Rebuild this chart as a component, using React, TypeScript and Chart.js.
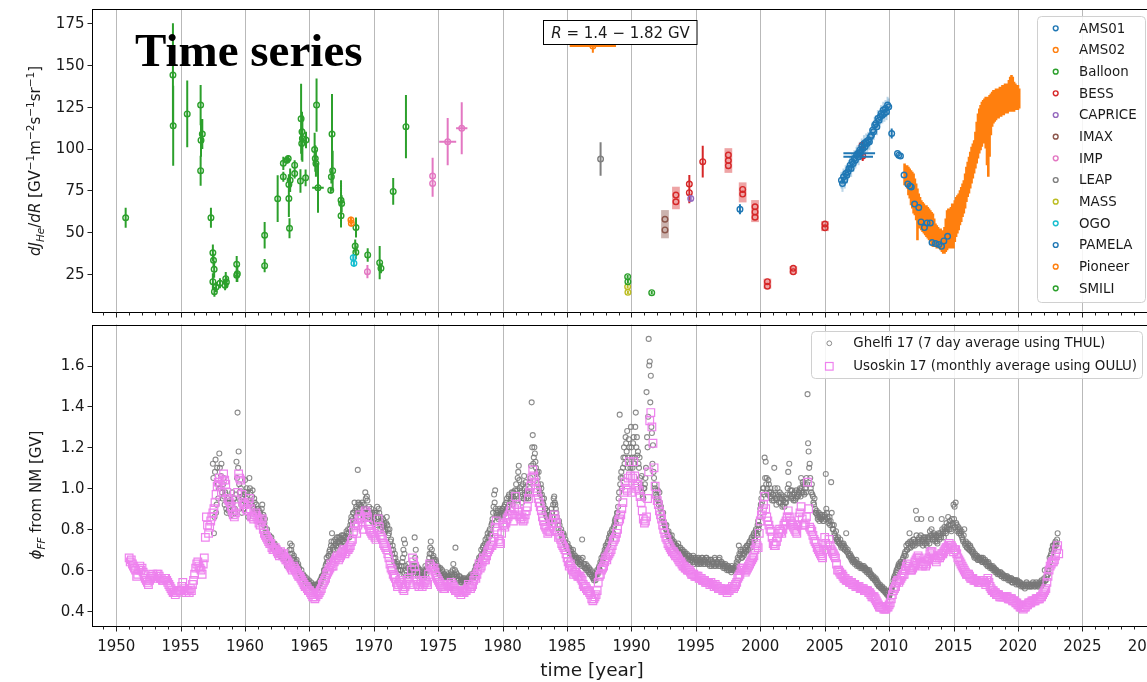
import { useEffect, useRef } from 'react';
import { Chart, registerables } from 'chart.js';

Chart.register(...registerables);

// ---------------------------------------------------------------- axes ----
const YEAR_MIN = 1948.14;
const YEAR_MAX = 2032.0;
const YEAR_TICK_FIRST = 1949;
const YEAR_TICK_LAST = 2032;
const YEAR_LABEL_STEP = 5;

const FLUX_MIN = 2.2;
const FLUX_MAX = 183.6;
const FLUX_TICKS = [25, 50, 75, 100, 125, 150, 175];

const PHI_MIN = 0.327;
const PHI_MAX = 1.8;
const PHI_TICKS = [0.4, 0.6, 0.8, 1.0, 1.2, 1.4, 1.6];

// ------------------------------------------- helium flux measurements ----
// rows: [year, flux, fluxErr, yearErr]
const BALLOON = [
  [1950.73, 58.5, 6], [1954.40, 144, 31], [1954.42, 113.6, 24], [1955.51, 120.7, 20],
  [1956.55, 126, 12], [1956.68, 108.7, 9], [1956.58, 105, 10], [1956.55, 86.7, 9],
  [1957.35, 58.5, 6], [1957.50, 37.5, 5], [1957.55, 33, 4], [1957.60, 27.6, 5],
  [1957.50, 20.2, 5], [1957.62, 14.2, 3], [1957.75, 17, 3], [1958.05, 19.2, 3],
  [1958.50, 22, 4], [1958.55, 20, 3], [1958.45, 18, 3], [1959.35, 30.6, 5],
  [1959.40, 25, 5], [1959.35, 24, 4], [1961.52, 48, 8], [1961.52, 29.8, 4],
  [1962.53, 69.9, 14], [1962.97, 91.1, 4], [1962.97, 83.1, 3], [1963.25, 93, 2],
  [1963.35, 94, 2], [1963.40, 78.5, 6], [1963.40, 70, 11], [1963.45, 52.2, 6],
  [1963.50, 81, 7], [1963.85, 90, 3], [1963.85, 85, 3], [1964.35, 117.8, 21],
  [1964.42, 110, 12], [1964.45, 106, 14], [1964.40, 103, 10], [1964.30, 80.5, 7],
  [1964.73, 105.1, 5], [1964.70, 82.4, 5], [1965.40, 99.4, 10], [1965.45, 94, 8],
  [1965.55, 126, 16], [1965.50, 91, 8], [1965.66, 76.5, 15, 0.45], [1966.75, 108.7, 24],
  [1966.80, 86.7, 12], [1966.70, 83, 4], [1966.65, 75, 2], [1967.45, 69, 12],
  [1967.50, 67, 5], [1967.45, 59.7, 7], [1968.61, 52.6, 6], [1968.55, 41.5, 4],
  [1968.60, 37.8, 4], [1969.52, 36.2, 4], [1970.45, 31.6, 10], [1970.55, 28.2, 3],
  [1971.50, 74.3, 8], [1972.49, 113.1, 19],
];
const IMP = [
  [1969.50, 26.2, 4], [1974.56, 83.5, 11], [1974.56, 79.1, 8],
  [1975.73, 104.1, 14.2, 0.66], [1976.82, 112.1, 15.6, 0.44],
];
const OGO = [[1968.40, 34.6, 2, 0.08], [1968.45, 31.2, 2, 0.08]];
const PIONEER = [[1968.22, 57.1, 2, 0.1], [1968.25, 55.2, 2, 0.1], [1987.0, 161.4, 4, 1.8]];
const LEAP = [[1987.6, 93.7, 10]];
const MASS = [[1989.70, 17.2, 1], [1989.72, 13.8, 1]];
const SMILI = [[1989.70, 23.2, 1], [1989.72, 20.2, 1], [1991.57, 13.6, 1]];
const CAPRICE = [[1994.60, 70.1, 1.5]];
const AMS01 = [[1998.42, 63.6, 3]];
const IMAX = [[1992.60, 57.6], [1992.60, 51.2]];
const IMAX_RANGE = [[1992.60, 46.2, 63.1]]; // [year, low, high]
const BESS = [
  [1993.45, 72.1], [1993.45, 68.1], [1994.49, 78.7, 5.4], [1994.49, 73.5, 6.3],
  [1995.53, 92.1, 9.5], [1997.52, 96.1], [1997.52, 89.7], [1997.52, 92.8],
  [1998.63, 75.5], [1998.63, 72.7], [1999.59, 65.1], [1999.59, 58.8], [1999.59, 62.0],
  [2000.55, 20.2], [2000.55, 17.5], [2002.56, 28.2], [2002.56, 26.2],
  [2005.02, 54.7], [2005.02, 52.5], [2007.90, 102, 2], [2007.95, 95.5, 3],
];
const BESS_RANGE = [
  [1993.45, 63.6, 77.1], [1997.52, 85.4, 100.2], [1998.63, 67.7, 79.7],
  [1999.59, 55.9, 69.1], [2000.55, 16, 22], [2002.56, 25, 29.5], [2005.02, 50.5, 56.5],
];
// PAMELA monthly fluxes and their uncertainty
const PAMELA_MONTHLY = [
  [2006.30, 81], [2006.38, 79], [2006.46, 83], [2006.55, 81], [2006.63, 85], [2006.72, 84],
  [2006.80, 86], [2006.88, 88], [2006.97, 90], [2007.05, 88], [2007.13, 92], [2007.22, 91],
  [2007.30, 94], [2007.38, 93], [2007.47, 96], [2007.55, 97], [2007.63, 95], [2007.72, 99],
  [2007.80, 98], [2007.88, 101], [2007.97, 100], [2008.05, 103], [2008.13, 101], [2008.22, 104],
  [2008.30, 103], [2008.38, 105], [2008.47, 104], [2008.55, 107], [2008.63, 108], [2008.72, 111],
  [2008.80, 110], [2008.88, 114], [2008.97, 115], [2009.05, 113], [2009.13, 118], [2009.22, 117],
  [2009.30, 119], [2009.38, 121], [2009.47, 120], [2009.55, 123], [2009.63, 121], [2009.72, 124],
  [2009.80, 122], [2009.88, 126], [2009.97, 125],
];
const PAMELA_MONTHLY_ERR = 5;
const PAMELA_OTHER = [
  [2007.68, 97.1, 0, 1.23], [2007.60, 95.1, 0, 1.15],
  [2010.20, 109, 3], [2010.65, 97], [2010.75, 96], [2010.88, 95.5],
  [2011.16, 84.1], [2011.45, 78.7], [2011.62, 77.5], [2011.72, 77], [2011.98, 66.7],
  [2012.30, 64.6], [2012.48, 56], [2012.74, 52.6], [2012.95, 55.4], [2013.20, 55.4],
  [2013.33, 43.6], [2013.60, 43], [2013.86, 42.4], [2014.07, 41.4], [2014.25, 44.6],
  [2014.54, 47.4],
];
// AMS-02 daily flux envelope, sampled every 0.1 year from 2011.2
const AMS02_START = 2011.2;
const AMS02_STEP = 0.1;
const AMS02_HIGH = [
  91, 90, 90, 89, 88, 87, 86, 85, 82, 79,
  76, 73, 71, 69, 68, 67, 66, 66, 65, 64,
  63, 62, 61, 58, 55, 54, 53, 52, 52, 51,
  51, 53, 58, 63, 64, 62, 65, 67, 67, 69,
  71, 72, 73, 75, 77, 79, 81, 85, 89, 92,
  95, 98, 101, 103, 105, 110, 116, 121, 124, 126,
  128, 129, 130, 131, 131, 130, 132, 133, 134, 135,
  135, 136, 136, 136, 137, 137, 138, 138, 139, 139,
  139, 141, 143, 144, 143, 140, 139, 138, 138, 136,
];
const AMS02_LOW = [
  78, 78, 76, 72, 70, 66, 64, 61, 60, 57,
  45, 53, 52, 51, 50, 49, 48, 47, 46, 45,
  44, 42, 41, 41, 41, 40, 41, 40, 39, 38,
  37, 37, 38, 39, 40, 40, 41, 40, 40, 44,
  47, 49, 51, 54, 56, 59, 61, 64, 68, 71,
  73, 76, 79, 82, 85, 88, 91, 94, 97, 99,
  101, 103, 105, 100, 90, 83, 95, 108, 113, 115,
  116, 117, 118, 118, 119, 119, 120, 120, 121, 121,
  121, 122, 122, 122, 122, 122, 123, 123, 123, 124,
];

// ------------------------------------------- modulation potential -------
// Usoskin 17: monthly values from January 1951 (one row per year)
const USOSKIN_START = 1951.0;
const USOSKIN_PER_YEAR = 12;
const USOSKIN_PHI = [
  0.66, 0.64, 0.65, 0.63, 0.62, 0.61, 0.60, 0.57, 0.58, 0.60, 0.62, 0.60,
  0.61, 0.59, 0.58, 0.56, 0.55, 0.54, 0.53, 0.55, 0.56, 0.57, 0.58, 0.57,
  0.56, 0.57, 0.58, 0.58, 0.57, 0.56, 0.56, 0.55, 0.55, 0.56, 0.56, 0.55,
  0.54, 0.53, 0.52, 0.51, 0.50, 0.49, 0.49, 0.48, 0.49, 0.50, 0.50, 0.50,
  0.50, 0.52, 0.54, 0.51, 0.50, 0.49, 0.50, 0.50, 0.49, 0.51, 0.50, 0.53,
  0.55, 0.58, 0.61, 0.63, 0.64, 0.62, 0.61, 0.60, 0.58, 0.63, 0.66, 0.76,
  0.86, 0.82, 0.78, 0.81, 0.84, 0.86, 0.88, 0.90, 0.93, 0.97, 1.01, 1.03,
  1.05, 1.02, 0.98, 1.04, 1.07, 1.04, 1.02, 0.98, 0.95, 0.94, 0.93, 0.91,
  0.89, 0.87, 0.86, 0.88, 0.91, 0.98, 1.07, 1.05, 1.04, 0.97, 0.93, 0.92,
  0.92, 0.90, 0.89, 0.93, 0.95, 0.90, 0.86, 0.86, 0.85, 0.87, 0.88, 0.86,
  0.85, 0.83, 0.82, 0.84, 0.85, 0.80, 0.78, 0.77, 0.76, 0.75, 0.74, 0.73,
  0.73, 0.71, 0.70, 0.70, 0.71, 0.70, 0.69, 0.68, 0.67, 0.69, 0.68, 0.67,
  0.68, 0.66, 0.65, 0.65, 0.64, 0.63, 0.62, 0.61, 0.60, 0.62, 0.61, 0.60,
  0.59, 0.58, 0.57, 0.57, 0.56, 0.55, 0.54, 0.53, 0.52, 0.52, 0.51, 0.50,
  0.50, 0.49, 0.48, 0.47, 0.47, 0.46, 0.47, 0.48, 0.48, 0.49, 0.50, 0.51,
  0.53, 0.54, 0.55, 0.56, 0.58, 0.59, 0.60, 0.61, 0.63, 0.62, 0.62, 0.64,
  0.65, 0.66, 0.67, 0.65, 0.66, 0.67, 0.68, 0.69, 0.70, 0.68, 0.69, 0.70,
  0.70, 0.71, 0.72, 0.74, 0.75, 0.79, 0.83, 0.81, 0.78, 0.82, 0.85, 0.87,
  0.85, 0.83, 0.80, 0.86, 0.89, 0.88, 0.86, 0.82, 0.80, 0.79, 0.78, 0.77,
  0.78, 0.76, 0.75, 0.80, 0.85, 0.81, 0.77, 0.76, 0.75, 0.73, 0.72, 0.71,
  0.70, 0.68, 0.66, 0.63, 0.61, 0.60, 0.58, 0.57, 0.56, 0.54, 0.52, 0.53,
  0.55, 0.54, 0.53, 0.51, 0.50, 0.52, 0.53, 0.55, 0.56, 0.54, 0.53, 0.60,
  0.66, 0.64, 0.62, 0.58, 0.55, 0.53, 0.52, 0.53, 0.54, 0.52, 0.53, 0.54,
  0.55, 0.54, 0.53, 0.58, 0.63, 0.62, 0.60, 0.61, 0.61, 0.59, 0.57, 0.56,
  0.55, 0.54, 0.53, 0.52, 0.52, 0.51, 0.51, 0.52, 0.53, 0.52, 0.52, 0.53,
  0.54, 0.53, 0.52, 0.51, 0.50, 0.50, 0.50, 0.49, 0.49, 0.48, 0.49, 0.49,
  0.49, 0.50, 0.50, 0.51, 0.53, 0.52, 0.51, 0.52, 0.53, 0.55, 0.57, 0.56,
  0.58, 0.60, 0.63, 0.61, 0.62, 0.64, 0.66, 0.65, 0.65, 0.67, 0.69, 0.70,
  0.71, 0.72, 0.72, 0.74, 0.76, 0.81, 0.84, 0.79, 0.75, 0.74, 0.73, 0.78,
  0.83, 0.82, 0.81, 0.83, 0.85, 0.86, 0.87, 0.89, 0.91, 0.87, 0.84, 0.90,
  0.96, 0.92, 0.89, 0.87, 0.86, 0.85, 0.86, 0.84, 0.85, 0.87, 0.89, 0.91,
  0.95, 0.98, 1.01, 1.05, 1.09, 1.06, 1.03, 1.00, 0.98, 0.95, 0.93, 0.91,
  0.89, 0.86, 0.84, 0.82, 0.81, 0.80, 0.78, 0.79, 0.79, 0.81, 0.83, 0.85,
  0.87, 0.85, 0.83, 0.79, 0.76, 0.77, 0.75, 0.73, 0.72, 0.71, 0.70, 0.68,
  0.66, 0.64, 0.62, 0.63, 0.61, 0.60, 0.58, 0.59, 0.59, 0.58, 0.57, 0.57,
  0.57, 0.56, 0.55, 0.53, 0.52, 0.52, 0.51, 0.50, 0.50, 0.49, 0.48, 0.46,
  0.45, 0.46, 0.47, 0.48, 0.50, 0.54, 0.57, 0.58, 0.60, 0.61, 0.62, 0.64,
  0.66, 0.65, 0.67, 0.68, 0.69, 0.70, 0.72, 0.74, 0.75, 0.76, 0.78, 0.80,
  0.84, 0.85, 0.87, 0.90, 0.93, 0.98, 1.03, 1.00, 0.99, 1.05, 1.13, 1.06,
  0.98, 1.05, 1.13, 1.06, 1.00, 1.01, 1.02, 0.99, 0.96, 0.93, 0.89, 0.85,
  0.83, 0.84, 0.86, 0.95, 1.08, 1.33, 1.37, 1.30, 1.22, 1.10, 1.01, 0.97,
  0.94, 0.92, 0.89, 0.87, 0.85, 0.82, 0.80, 0.78, 0.76, 0.75, 0.73, 0.72,
  0.71, 0.70, 0.69, 0.69, 0.68, 0.67, 0.67, 0.66, 0.65, 0.64, 0.64, 0.63,
  0.62, 0.62, 0.61, 0.61, 0.60, 0.60, 0.60, 0.59, 0.58, 0.58, 0.58, 0.57,
  0.57, 0.57, 0.57, 0.56, 0.56, 0.56, 0.55, 0.55, 0.55, 0.54, 0.54, 0.54,
  0.54, 0.53, 0.54, 0.53, 0.53, 0.52, 0.53, 0.52, 0.52, 0.51, 0.51, 0.51,
  0.51, 0.50, 0.50, 0.50, 0.50, 0.49, 0.50, 0.50, 0.51, 0.51, 0.52, 0.51,
  0.52, 0.53, 0.54, 0.56, 0.57, 0.58, 0.60, 0.61, 0.61, 0.60, 0.59, 0.60,
  0.61, 0.62, 0.63, 0.64, 0.65, 0.66, 0.67, 0.70, 0.73, 0.72, 0.71, 0.78,
  0.84, 0.87, 0.89, 0.92, 0.96, 0.90, 0.86, 0.84, 0.82, 0.80, 0.79, 0.76,
  0.73, 0.72, 0.72, 0.74, 0.76, 0.78, 0.80, 0.79, 0.78, 0.80, 0.82, 0.83,
  0.84, 0.86, 0.89, 0.86, 0.84, 0.83, 0.82, 0.81, 0.80, 0.79, 0.78, 0.82,
  0.86, 0.88, 0.91, 0.85, 0.82, 0.82, 0.83, 0.86, 1.03, 0.90, 0.81, 0.80,
  0.79, 0.77, 0.75, 0.74, 0.73, 0.71, 0.70, 0.69, 0.68, 0.67, 0.66, 0.70,
  0.76, 0.73, 0.70, 0.72, 0.75, 0.72, 0.70, 0.69, 0.68, 0.67, 0.66, 0.63,
  0.60, 0.60, 0.59, 0.58, 0.58, 0.57, 0.56, 0.56, 0.55, 0.55, 0.55, 0.54,
  0.54, 0.54, 0.53, 0.53, 0.53, 0.52, 0.52, 0.52, 0.52, 0.51, 0.51, 0.51,
  0.51, 0.50, 0.50, 0.50, 0.50, 0.49, 0.49, 0.48, 0.47, 0.47, 0.47, 0.46,
  0.45, 0.44, 0.43, 0.42, 0.42, 0.42, 0.42, 0.41, 0.41, 0.41, 0.42, 0.42,
  0.43, 0.44, 0.46, 0.48, 0.50, 0.51, 0.52, 0.54, 0.55, 0.54, 0.55, 0.56,
  0.57, 0.58, 0.58, 0.60, 0.62, 0.63, 0.62, 0.61, 0.60, 0.60, 0.61, 0.62,
  0.64, 0.65, 0.66, 0.67, 0.66, 0.64, 0.63, 0.62, 0.63, 0.64, 0.62, 0.63,
  0.65, 0.66, 0.68, 0.69, 0.69, 0.67, 0.66, 0.65, 0.64, 0.66, 0.67, 0.66,
  0.67, 0.68, 0.68, 0.69, 0.70, 0.71, 0.71, 0.72, 0.73, 0.72, 0.72, 0.71,
  0.69, 0.70, 0.70, 0.68, 0.66, 0.65, 0.64, 0.63, 0.62, 0.61, 0.60, 0.59,
  0.58, 0.58, 0.58, 0.57, 0.56, 0.56, 0.56, 0.55, 0.55, 0.55, 0.55, 0.54,
  0.54, 0.54, 0.54, 0.55, 0.55, 0.54, 0.53, 0.55, 0.56, 0.54, 0.52, 0.51,
  0.50, 0.50, 0.49, 0.49, 0.48, 0.48, 0.48, 0.47, 0.47, 0.47, 0.47, 0.47,
  0.47, 0.47, 0.47, 0.46, 0.46, 0.46, 0.46, 0.45, 0.45, 0.45, 0.44, 0.44,
  0.43, 0.43, 0.42, 0.42, 0.42, 0.41, 0.42, 0.42, 0.43, 0.43, 0.44, 0.44,
  0.44, 0.45, 0.45, 0.45, 0.45, 0.46, 0.46, 0.46, 0.46, 0.47, 0.47, 0.48,
  0.49, 0.50, 0.51, 0.54, 0.57, 0.60, 0.62, 0.63, 0.64, 0.64, 0.65, 0.67,
  0.70, 0.72, 0.68,
];
// Ghelfi 17: weekly series, given as two interleaved monthly samplings from July 1957
const GHELFI_START = 1957.5;
const GHELFI_PER_YEAR = 12;
const GHELFI_MID_OFFSET = 1 / 24;
const GHELFI_PHI = [
  1.12, 0.78, 1.08, 0.88, 1.10, 0.95,
  1.17, 1.00, 1.12, 0.95, 1.05, 0.92, 0.97, 0.88, 0.95, 0.90, 0.93, 0.87,
  0.98, 0.90, 0.95, 0.88, 1.13, 1.37, 1.18, 0.98, 1.00, 0.88, 0.95, 0.90,
  1.04, 0.95, 0.98, 0.86, 1.05, 0.98, 0.92, 0.99, 0.90, 0.93, 0.88, 0.90,
  0.90, 0.84, 0.88, 0.85, 0.92, 0.87, 0.83, 0.80, 0.78, 0.77, 0.75, 0.76,
  0.74, 0.72, 0.73, 0.70, 0.72, 0.69, 0.71, 0.68, 0.70, 0.67, 0.69, 0.66,
  0.68, 0.65, 0.66, 0.62, 0.64, 0.66, 0.73, 0.70, 0.68, 0.66, 0.65, 0.63,
  0.65, 0.62, 0.60, 0.59, 0.58, 0.57, 0.58, 0.56, 0.55, 0.55, 0.54, 0.54,
  0.53, 0.53, 0.52, 0.52, 0.51, 0.53, 0.52, 0.53, 0.52, 0.54, 0.55, 0.56,
  0.57, 0.58, 0.60, 0.62, 0.66, 0.64, 0.67, 0.70, 0.72, 0.78, 0.70, 0.72,
  0.75, 0.72, 0.74, 0.76, 0.73, 0.75, 0.77, 0.74, 0.76, 0.73, 0.75, 0.78,
  0.80, 0.76, 0.82, 0.86, 0.85, 0.88, 0.93, 0.86, 0.90, 1.09, 0.92, 0.88,
  0.88, 0.93, 0.85, 0.90, 0.98, 0.90, 0.94, 0.86, 0.89, 0.87, 0.84, 0.86,
  0.85, 0.88, 0.82, 0.91, 0.86, 0.88, 0.80, 0.84, 0.82, 0.79, 0.83, 0.80,
  0.86, 0.80, 0.78, 0.72, 0.75, 0.68, 0.70, 0.64, 0.66, 0.62, 0.63, 0.60,
  0.58, 0.60, 0.62, 0.66, 0.75, 0.73, 0.60, 0.57, 0.63, 0.58, 0.61, 0.59,
  0.60, 0.58, 0.76, 0.70, 0.62, 0.57, 0.60, 0.57, 0.59, 0.56, 0.58, 0.57,
  0.62, 0.58, 0.60, 0.64, 0.68, 0.74, 0.70, 0.66, 0.65, 0.62, 0.64, 0.61,
  0.60, 0.58, 0.61, 0.57, 0.59, 0.56, 0.58, 0.57, 0.56, 0.58, 0.57, 0.55,
  0.59, 0.57, 0.63, 0.58, 0.71, 0.57, 0.56, 0.55, 0.57, 0.55, 0.54, 0.56,
  0.55, 0.54, 0.55, 0.56, 0.54, 0.57, 0.56, 0.57, 0.58, 0.57, 0.60, 0.62,
  0.62, 0.64, 0.66, 0.64, 0.70, 0.68, 0.72, 0.70, 0.75, 0.73, 0.78, 0.76,
  0.80, 0.78, 0.83, 0.88, 0.97, 0.99, 0.88, 0.86, 0.85, 0.90, 0.87, 0.88,
  0.90, 0.87, 0.92, 0.89, 0.95, 0.91, 0.97, 0.93, 0.96, 0.92, 0.98, 0.95,
  0.97, 0.94, 1.05, 1.11, 1.00, 0.96, 0.93, 1.02, 1.06, 0.97, 0.95, 0.98,
  0.95, 1.00, 1.05, 1.42, 1.26, 1.15, 1.17, 1.10, 1.08, 1.02, 1.00, 0.97,
  1.00, 0.95, 0.92, 0.88, 0.90, 0.86, 0.85, 0.83, 0.86, 0.84, 0.88, 0.92,
  0.96, 0.92, 0.88, 0.84, 0.80, 0.82, 0.78, 0.76, 0.75, 0.77, 0.73, 0.72,
  0.72, 0.70, 0.71, 0.68, 0.69, 0.67, 0.68, 0.66, 0.65, 0.66, 0.64, 0.65,
  0.63, 0.65, 0.75, 0.62, 0.63, 0.61, 0.60, 0.62, 0.59, 0.58, 0.60, 0.57,
  0.56, 0.55, 0.57, 0.58, 0.60, 0.59, 0.62, 0.64, 0.66, 0.65, 0.68, 0.70,
  0.72, 0.70, 0.74, 0.76, 0.78, 0.75, 0.80, 0.78, 0.82, 0.85, 0.86, 0.88,
  0.95, 1.36, 1.05, 1.00, 1.10, 1.20, 1.15, 1.22, 1.28, 1.15, 1.20, 1.10,
  1.20, 1.10, 1.25, 1.15, 1.37, 1.25, 1.18, 1.10, 1.05, 1.00, 0.98, 0.95,
  1.00, 1.05, 1.47, 1.20, 1.73, 1.62, 1.55, 1.27, 1.21, 1.05, 1.00, 0.97,
  0.96, 0.94, 0.98, 0.90, 0.88, 0.86, 0.84, 0.82, 0.80, 0.79, 0.78, 0.76,
  0.76, 0.74, 0.75, 0.72, 0.73, 0.71, 0.72, 0.70, 0.71, 0.69, 0.70, 0.68,
  0.69, 0.67, 0.68, 0.66, 0.67, 0.65, 0.67, 0.65, 0.66, 0.64, 0.66, 0.64,
  0.66, 0.64, 0.65, 0.63, 0.65, 0.64, 0.66, 0.63, 0.65, 0.64, 0.66, 0.63,
  0.64, 0.62, 0.65, 0.63, 0.64, 0.62, 0.65, 0.63, 0.64, 0.62, 0.66, 0.63,
  0.64, 0.62, 0.63, 0.61, 0.62, 0.60, 0.62, 0.60, 0.61, 0.59, 0.61, 0.60,
  0.60, 0.62, 0.64, 0.66, 0.72, 0.67, 0.69, 0.66, 0.70, 0.68, 0.71, 0.69,
  0.72, 0.70, 0.74, 0.71, 0.76, 0.73, 0.78, 0.75, 0.80, 0.77, 0.84, 0.82,
  0.90, 0.95, 0.98, 1.00, 1.15, 1.13, 1.05, 0.97, 1.02, 0.96, 0.98, 0.94,
  0.97, 1.10, 0.95, 0.92, 1.00, 0.96, 0.98, 0.93, 0.95, 0.92, 0.96, 0.93,
  0.93, 0.97, 1.08, 1.12, 0.99, 0.95, 0.97, 0.94, 0.98, 0.95, 0.97, 0.96,
  0.97, 1.00, 1.05, 0.98, 1.02, 0.97, 1.00, 1.05, 1.46, 1.18, 1.12, 1.00,
  1.02, 0.96, 0.92, 0.90, 0.88, 0.87, 0.86, 0.84, 0.87, 0.85, 0.86, 0.84,
  0.87, 1.07, 0.88, 0.85, 0.84, 0.82, 1.03, 0.82, 0.80, 0.78, 0.76, 0.75,
  0.75, 0.74, 0.73, 0.72, 0.73, 0.71, 0.72, 0.70, 0.78, 0.69, 0.68, 0.67,
  0.66, 0.65, 0.64, 0.65, 0.63, 0.64, 0.62, 0.63, 0.62, 0.61, 0.62, 0.61,
  0.61, 0.60, 0.61, 0.59, 0.60, 0.58, 0.59, 0.57, 0.57, 0.56, 0.56, 0.55,
  0.54, 0.53, 0.53, 0.52, 0.52, 0.51, 0.51, 0.50, 0.50, 0.49, 0.48, 0.48,
  0.47, 0.49, 0.51, 0.52, 0.55, 0.57, 0.58, 0.60, 0.61, 0.63, 0.62, 0.64,
  0.63, 0.66, 0.67, 0.69, 0.72, 0.70, 0.73, 0.78, 0.71, 0.74, 0.72, 0.75,
  0.72, 0.89, 0.85, 0.74, 0.76, 0.73, 0.85, 0.74, 0.76, 0.73, 0.75, 0.72,
  0.74, 0.76, 0.79, 0.85, 0.77, 0.75, 0.77, 0.74, 0.76, 0.73, 0.78, 0.75,
  0.77, 0.85, 0.79, 0.76, 0.80, 0.78, 0.81, 0.86, 0.80, 0.82, 0.79, 0.83,
  0.92, 0.91, 0.93, 0.82, 0.80, 0.78, 0.80, 0.77, 0.76, 0.74, 0.80, 0.72,
  0.73, 0.71, 0.72, 0.70, 0.71, 0.69, 0.68, 0.67, 0.68, 0.66, 0.67, 0.65,
  0.66, 0.65, 0.66, 0.64, 0.65, 0.64, 0.63, 0.64, 0.62, 0.63, 0.61, 0.62,
  0.61, 0.60, 0.61, 0.59, 0.60, 0.58, 0.59, 0.58, 0.59, 0.57, 0.58, 0.56,
  0.57, 0.56, 0.57, 0.55, 0.56, 0.55, 0.56, 0.54, 0.55, 0.54, 0.55, 0.54,
  0.54, 0.53, 0.54, 0.52, 0.53, 0.52, 0.53, 0.52, 0.54, 0.52, 0.53, 0.52,
  0.53, 0.52, 0.54, 0.53, 0.52, 0.54, 0.53, 0.52, 0.54, 0.53, 0.55, 0.53,
  0.54, 0.60, 0.55, 0.57, 0.58, 0.62, 0.64, 0.68, 0.70, 0.72, 0.71, 0.74,
  0.73, 0.78,
];
const GHELFI_PHI_MID = [
  1.05, 0.86, 1.14, 0.92, 1.02, 1.00,
  1.10, 1.06, 0.98, 1.02, 0.96, 0.98, 0.90, 0.93, 0.89, 0.94, 0.88, 0.92,
  0.93, 0.95, 0.90, 0.97, 1.05, 1.10, 1.02, 0.94, 0.92, 0.96, 0.90, 0.97,
  0.98, 1.00, 0.92, 0.94, 1.00, 0.93, 0.96, 0.91, 0.95, 0.89, 0.92, 0.87,
  0.86, 0.89, 0.83, 0.90, 0.86, 0.82, 0.85, 0.78, 0.80, 0.74, 0.77, 0.73,
  0.76, 0.71, 0.70, 0.73, 0.69, 0.71, 0.68, 0.70, 0.67, 0.69, 0.66, 0.68,
  0.66, 0.67, 0.64, 0.66, 0.62, 0.70, 0.68, 0.72, 0.65, 0.67, 0.63, 0.64,
  0.62, 0.63, 0.61, 0.58, 0.60, 0.56, 0.57, 0.57, 0.54, 0.56, 0.53, 0.55,
  0.52, 0.54, 0.51, 0.53, 0.52, 0.51, 0.53, 0.51, 0.53, 0.53, 0.54, 0.57,
  0.56, 0.60, 0.59, 0.63, 0.64, 0.67, 0.69, 0.68, 0.74, 0.71, 0.74, 0.70,
  0.73, 0.76, 0.72, 0.74, 0.76, 0.72, 0.75, 0.77, 0.74, 0.76, 0.79, 0.76,
  0.78, 0.80, 0.84, 0.82, 0.88, 0.84, 0.89, 0.91, 0.88, 0.93, 0.90, 0.92,
  0.91, 0.87, 0.92, 0.88, 0.95, 0.96, 0.88, 0.91, 0.85, 0.90, 0.88, 0.83,
  0.87, 0.83, 0.88, 0.86, 0.90, 0.83, 0.86, 0.81, 0.85, 0.82, 0.79, 0.83,
  0.82, 0.77, 0.80, 0.74, 0.70, 0.72, 0.66, 0.68, 0.63, 0.64, 0.60, 0.62,
  0.60, 0.57, 0.64, 0.70, 0.68, 0.62, 0.59, 0.61, 0.57, 0.60, 0.58, 0.62,
  0.59, 0.62, 0.66, 0.60, 0.59, 0.61, 0.58, 0.60, 0.57, 0.59, 0.56, 0.59,
  0.60, 0.61, 0.63, 0.66, 0.71, 0.68, 0.64, 0.67, 0.63, 0.65, 0.60, 0.62,
  0.61, 0.59, 0.58, 0.60, 0.57, 0.58, 0.56, 0.59, 0.57, 0.56, 0.55, 0.57,
  0.58, 0.60, 0.57, 0.60, 0.59, 0.58, 0.55, 0.57, 0.54, 0.56, 0.55, 0.54,
  0.56, 0.55, 0.54, 0.55, 0.56, 0.55, 0.58, 0.56, 0.56, 0.59, 0.58, 0.61,
  0.63, 0.62, 0.65, 0.67, 0.66, 0.71, 0.69, 0.73, 0.71, 0.76, 0.74, 0.79,
  0.77, 0.82, 0.85, 0.91, 0.93, 0.90, 0.87, 0.89, 0.87, 0.86, 0.89, 0.90,
  0.88, 0.91, 0.88, 0.93, 0.90, 0.96, 0.92, 0.95, 0.98, 0.96, 0.94, 0.99,
  1.02, 0.99, 1.08, 1.04, 0.98, 1.01, 0.97, 0.95, 1.00, 1.03, 0.99, 0.96,
  0.98, 1.03, 1.11, 1.20, 1.12, 1.20, 1.13, 1.07, 1.05, 1.08, 0.98, 1.02,
  0.97, 0.93, 0.95, 0.90, 0.87, 0.89, 0.84, 0.87, 0.83, 0.90, 0.86, 0.95,
  0.93, 0.90, 0.86, 0.82, 0.84, 0.79, 0.80, 0.77, 0.78, 0.74, 0.75, 0.71,
  0.73, 0.71, 0.69, 0.70, 0.67, 0.70, 0.66, 0.67, 0.66, 0.64, 0.66, 0.63,
  0.64, 0.62, 0.66, 0.63, 0.61, 0.63, 0.61, 0.60, 0.61, 0.59, 0.58, 0.59,
  0.57, 0.56, 0.55, 0.59, 0.58, 0.61, 0.60, 0.63, 0.64, 0.67, 0.66, 0.69,
  0.71, 0.73, 0.72, 0.75, 0.77, 0.79, 0.77, 0.81, 0.84, 0.83, 0.88, 0.91,
  0.98, 1.02, 1.08, 1.05, 1.15, 1.12, 1.25, 1.18, 1.10, 1.24, 1.12, 1.30,
  1.15, 1.22, 1.12, 1.30, 1.20, 1.16, 1.12, 1.15, 1.02, 1.06, 0.96, 1.00,
  1.02, 1.10, 1.25, 1.35, 1.60, 1.42, 1.30, 1.12, 1.08, 1.02, 0.99, 0.95,
  0.99, 0.92, 0.93, 0.91, 0.85, 0.88, 0.83, 0.81, 0.82, 0.77, 0.79, 0.77,
  0.75, 0.77, 0.73, 0.74, 0.71, 0.72, 0.70, 0.73, 0.69, 0.71, 0.68, 0.70,
  0.68, 0.69, 0.66, 0.68, 0.65, 0.67, 0.64, 0.66, 0.65, 0.67, 0.63, 0.65,
  0.65, 0.63, 0.66, 0.64, 0.63, 0.66, 0.64, 0.65, 0.63, 0.66, 0.64, 0.65,
  0.63, 0.65, 0.62, 0.64, 0.63, 0.66, 0.62, 0.64, 0.63, 0.65, 0.62, 0.64,
  0.63, 0.61, 0.62, 0.63, 0.61, 0.62, 0.60, 0.61, 0.60, 0.62, 0.60, 0.61,
  0.61, 0.60, 0.63, 0.65, 0.68, 0.70, 0.66, 0.68, 0.67, 0.69, 0.70, 0.72,
  0.70, 0.73, 0.72, 0.75, 0.74, 0.77, 0.76, 0.79, 0.78, 0.82, 0.80, 0.86,
  0.92, 0.93, 1.00, 0.97, 1.05, 1.02, 1.00, 1.04, 0.98, 1.00, 0.95, 0.97,
  0.94, 1.00, 0.97, 0.95, 0.97, 0.93, 0.95, 0.97, 0.91, 0.94, 0.91, 0.95,
  0.95, 1.00, 1.02, 0.97, 0.96, 0.99, 0.95, 0.97, 0.94, 0.99, 0.96, 0.98,
  0.99, 0.96, 1.00, 1.03, 0.98, 1.02, 0.98, 1.02, 1.22, 1.10, 1.05, 0.98,
  0.97, 0.93, 0.95, 0.88, 0.89, 0.85, 0.88, 0.86, 0.85, 0.87, 0.84, 0.86,
  0.85, 0.90, 0.86, 0.83, 0.86, 0.84, 0.88, 0.80, 0.82, 0.77, 0.79, 0.74,
  0.76, 0.73, 0.75, 0.71, 0.72, 0.73, 0.70, 0.71, 0.69, 0.70, 0.67, 0.68,
  0.67, 0.66, 0.65, 0.64, 0.64, 0.65, 0.63, 0.62, 0.63, 0.62, 0.61, 0.62,
  0.62, 0.61, 0.60, 0.60, 0.59, 0.60, 0.58, 0.58, 0.56, 0.57, 0.55, 0.56,
  0.55, 0.54, 0.52, 0.53, 0.51, 0.52, 0.50, 0.51, 0.49, 0.50, 0.49, 0.47,
  0.48, 0.50, 0.50, 0.53, 0.56, 0.56, 0.59, 0.59, 0.62, 0.62, 0.64, 0.63,
  0.65, 0.64, 0.68, 0.67, 0.70, 0.73, 0.71, 0.74, 0.73, 0.72, 0.75, 0.73,
  0.74, 0.77, 0.73, 0.75, 0.74, 0.77, 0.75, 0.72, 0.75, 0.76, 0.73, 0.76,
  0.75, 0.73, 0.77, 0.80, 0.76, 0.78, 0.75, 0.77, 0.74, 0.77, 0.76, 0.78,
  0.76, 0.80, 0.78, 0.81, 0.79, 0.83, 0.80, 0.82, 0.84, 0.80, 0.85, 0.82,
  0.85, 0.81, 0.83, 0.79, 0.81, 0.79, 0.78, 0.79, 0.75, 0.77, 0.73, 0.74,
  0.71, 0.73, 0.70, 0.72, 0.69, 0.70, 0.69, 0.66, 0.67, 0.67, 0.65, 0.66,
  0.65, 0.66, 0.64, 0.66, 0.64, 0.65, 0.64, 0.62, 0.64, 0.62, 0.62, 0.61,
  0.62, 0.61, 0.60, 0.60, 0.59, 0.59, 0.58, 0.59, 0.57, 0.58, 0.57, 0.57,
  0.56, 0.57, 0.56, 0.56, 0.55, 0.56, 0.54, 0.55, 0.55, 0.55, 0.53, 0.55,
  0.53, 0.54, 0.53, 0.53, 0.52, 0.53, 0.51, 0.53, 0.53, 0.53, 0.52, 0.53,
  0.52, 0.53, 0.53, 0.52, 0.53, 0.53, 0.52, 0.53, 0.53, 0.52, 0.54, 0.54,
  0.56, 0.55, 0.57, 0.60, 0.60, 0.66, 0.67, 0.70, 0.72, 0.70, 0.73, 0.72,
  0.75,
];

// ------------------------------------------------------------- styling ----
const FONT = '"DejaVu Sans", "Noto Sans", sans-serif';
const TEXT = '#1a1a1a';
const GRID = '#b9b9b9';
const C = {
  blue: '#1f77b4', orange: '#ff7f0e', green: '#2ca02c', red: '#d62728',
  purple: '#9467bd', brown: '#8c564b', pink: '#e377c2', grey: '#7f7f7f',
  olive: '#bcbd22', cyan: '#17becf',
};
const TOP_LEGEND: [string, string][] = [
  ['AMS01', C.blue], ['AMS02', C.orange], ['Balloon', C.green], ['BESS', C.red],
  ['CAPRICE', C.purple], ['IMAX', C.brown], ['IMP', C.pink], ['LEAP', C.grey],
  ['MASS', C.olive], ['OGO', C.cyan], ['PAMELA', C.blue], ['Pioneer', C.orange],
  ['SMILI', C.green],
];

const CANVAS_W = 1213;
const TOP_H = 320;
const BOT_OFFSET = 318;
const BOT_H = 364;
const PAD_LEFT = 92.3;
const PAD_RIGHT = 40.5;

type Seg = { t: string; it?: boolean; s?: number };

function segFont(s: Seg, size: number) {
  return `${s.it ? 'italic ' : ''}${s.s ? size * 0.7 : size}px ${FONT}`;
}

// Draws mixed italic / sub / superscript text centred on (cx, cy).
function drawRich(ctx: CanvasRenderingContext2D, segs: Seg[], cx: number, cy: number, size: number, rotate: boolean) {
  ctx.save();
  ctx.translate(cx, cy);
  if (rotate) ctx.rotate(-Math.PI / 2);
  let total = 0;
  for (const s of segs) {
    ctx.font = segFont(s, size);
    total += ctx.measureText(s.t).width;
  }
  let x = -total / 2;
  ctx.fillStyle = TEXT;
  ctx.textAlign = 'left';
  ctx.textBaseline = 'alphabetic';
  for (const s of segs) {
    ctx.font = segFont(s, size);
    const dy = s.s === 1 ? -size * 0.4 : s.s === -1 ? size * 0.22 : 0;
    ctx.fillText(s.t, x, size * 0.36 + dy);
    x += ctx.measureText(s.t).width;
  }
  ctx.restore();
}

function roundRect(ctx: CanvasRenderingContext2D, x: number, y: number, w: number, h: number, r: number) {
  ctx.beginPath();
  ctx.moveTo(x + r, y);
  ctx.lineTo(x + w - r, y);
  ctx.arcTo(x + w, y, x + w, y + r, r);
  ctx.lineTo(x + w, y + h - r);
  ctx.arcTo(x + w, y + h, x + w - r, y + h, r);
  ctx.lineTo(x + r, y + h);
  ctx.arcTo(x, y + h, x, y + h - r, r);
  ctx.lineTo(x, y + r);
  ctx.arcTo(x, y, x + r, y, r);
  ctx.closePath();
}

// Error bars and shaded uncertainty ranges, drawn under each dataset's markers.
const errorBarPlugin = {
  id: 'errorBars',
  beforeDatasetDraw(chart: any, args: any) {
    const ds = chart.data.datasets[args.index];
    const st = ds.errStyle;
    if (!st) return;
    const { ctx, chartArea: a } = chart;
    const xs = chart.scales.x;
    const ys = chart.scales.y;
    ctx.save();
    ctx.beginPath();
    ctx.rect(a.left, a.top, a.right - a.left, a.bottom - a.top);
    ctx.clip();
    if (ds.ranges) {
      ctx.fillStyle = st.rangeColor;
      for (const r of ds.ranges) {
        const x0 = xs.getPixelForValue(r.x - st.rangeHalf);
        const x1 = xs.getPixelForValue(r.x + st.rangeHalf);
        const y0 = ys.getPixelForValue(r.hi);
        const y1 = ys.getPixelForValue(r.lo);
        ctx.fillRect(x0, y0, x1 - x0, y1 - y0);
      }
    }
    ctx.strokeStyle = st.color;
    ctx.lineWidth = st.width;
    ctx.beginPath();
    for (const p of ds.data) {
      if (p.yh !== p.yl) {
        const xp = xs.getPixelForValue(p.x);
        ctx.moveTo(xp, ys.getPixelForValue(p.yl));
        ctx.lineTo(xp, ys.getPixelForValue(p.yh));
      }
      if (p.xh !== p.xl) {
        const yp = ys.getPixelForValue(p.y);
        ctx.moveTo(xs.getPixelForValue(p.xl), yp);
        ctx.lineTo(xs.getPixelForValue(p.xh), yp);
      }
    }
    ctx.stroke();
    ctx.restore();
  },
};

type FrameCfg = {
  id: string;
  yTicks: number[];
  yFmt: (v: number) => string;
  xLabels: boolean;
  decorate: (chart: any) => void;
};

// Axes box, year grid, ticks, tick labels and annotations.
function framePlugin(cfg: FrameCfg) {
  return {
    id: cfg.id,
    beforeDatasetsDraw(chart: any) {
      const { ctx, chartArea: a } = chart;
      const xs = chart.scales.x;
      ctx.save();
      ctx.strokeStyle = GRID;
      ctx.lineWidth = 1;
      ctx.beginPath();
      for (let yr = YEAR_TICK_FIRST; yr <= YEAR_TICK_LAST; yr++) {
        if (yr % YEAR_LABEL_STEP) continue;
        const p = Math.round(xs.getPixelForValue(yr)) + 0.5;
        if (p < a.left || p > a.right) continue;
        ctx.moveTo(p, a.top);
        ctx.lineTo(p, a.bottom);
      }
      ctx.stroke();
      ctx.restore();
    },
    afterDatasetsDraw(chart: any) {
      const { ctx, chartArea: a } = chart;
      const xs = chart.scales.x;
      const ys = chart.scales.y;
      ctx.save();
      ctx.strokeStyle = '#000';
      ctx.lineWidth = 1;
      ctx.strokeRect(Math.round(a.left) + 0.5, Math.round(a.top) + 0.5,
        Math.round(a.right - a.left), Math.round(a.bottom - a.top));
      ctx.strokeStyle = '#222';
      ctx.beginPath();
      const bottom = Math.round(a.bottom) + 0.5;
      for (let yr = YEAR_TICK_FIRST; yr <= YEAR_TICK_LAST; yr++) {
        const p = Math.round(xs.getPixelForValue(yr)) + 0.5;
        const len = yr % YEAR_LABEL_STEP ? 3 : 5;
        ctx.moveTo(p, bottom);
        ctx.lineTo(p, bottom + len);
      }
      const left = Math.round(a.left) + 0.5;
      for (const v of cfg.yTicks) {
        const p = Math.round(ys.getPixelForValue(v)) + 0.5;
        ctx.moveTo(left - 5, p);
        ctx.lineTo(left, p);
      }
      ctx.stroke();
      ctx.fillStyle = TEXT;
      ctx.font = `15px ${FONT}`;
      ctx.textAlign = 'right';
      ctx.textBaseline = 'middle';
      for (const v of cfg.yTicks) {
        ctx.fillText(cfg.yFmt(v), left - 8, ys.getPixelForValue(v) + 1);
      }
      if (cfg.xLabels) {
        ctx.textAlign = 'center';
        ctx.textBaseline = 'alphabetic';
        for (let yr = YEAR_TICK_FIRST; yr <= YEAR_TICK_LAST; yr++) {
          if (yr % YEAR_LABEL_STEP) continue;
          ctx.fillText(String(yr), xs.getPixelForValue(yr), a.bottom + 25);
        }
      }
      ctx.restore();
      cfg.decorate(chart);
    },
  };
}

function errPoints(rows: number[][]) {
  return rows.map(([x, y, ey = 0, ex = 0]) => ({ x, y, yl: y - ey, yh: y + ey, xl: x - ex, xh: x + ex }));
}

function errSet(label: string, rows: number[][], color: string, extra: any = {}) {
  return {
    label,
    data: errPoints(rows),
    pointStyle: 'circle',
    pointRadius: 2.8,
    pointBorderWidth: 1.4,
    pointBorderColor: color,
    pointBackgroundColor: 'rgba(0,0,0,0)',
    errStyle: { color, width: 2 },
    ...extra,
  };
}

function topDatasets() {
  const ams02 = AMS02_HIGH.map((hi, i) => {
    const lo = AMS02_LOW[i];
    const x = AMS02_START + i * AMS02_STEP;
    return { x, y: (hi + lo) / 2, yl: lo, yh: hi, xl: x, xh: x };
  });
  const sets: any[] = [
    errSet('AMS01', AMS01, C.blue),
    {
      label: 'AMS02', data: ams02, pointRadius: 0,
      errStyle: { color: C.orange, width: 2.6 },
    },
    errSet('Balloon', BALLOON, C.green),
    errSet('BESS', BESS, C.red, {
      ranges: BESS_RANGE.map(([x, lo, hi]) => ({ x, lo, hi })),
      errStyle: { color: C.red, width: 2, rangeColor: 'rgba(214,39,40,0.42)', rangeHalf: 0.3 },
    }),
    errSet('CAPRICE', CAPRICE, C.purple),
    errSet('IMAX', IMAX, C.brown, {
      ranges: IMAX_RANGE.map(([x, lo, hi]) => ({ x, lo, hi })),
      errStyle: { color: C.brown, width: 2, rangeColor: 'rgba(140,86,75,0.45)', rangeHalf: 0.3 },
    }),
    errSet('IMP', IMP, C.pink),
    errSet('LEAP', LEAP, C.grey),
    errSet('MASS', MASS, C.olive),
    errSet('OGO', OGO, C.cyan),
    errSet('PAMELA', [...PAMELA_MONTHLY, ...PAMELA_OTHER], C.blue, {
      ranges: PAMELA_MONTHLY.map(([x, y]) => ({ x, lo: y - PAMELA_MONTHLY_ERR, hi: y + PAMELA_MONTHLY_ERR })),
      errStyle: { color: C.blue, width: 2, rangeColor: 'rgba(31,119,180,0.3)', rangeHalf: 0.08 },
    }),
    errSet('Pioneer', PIONEER, C.orange),
    errSet('SMILI', SMILI, C.green),
  ];
  return sets.map((d, i) => ({ ...d, order: sets.length - i }));
}

function decorateTop(chart: any) {
  const ctx: CanvasRenderingContext2D = chart.ctx;
  ctx.save();
  ctx.fillStyle = '#000';
  ctx.font = `bold 47px "Liberation Serif", "DejaVu Serif", serif`;
  ctx.textAlign = 'left';
  ctx.textBaseline = 'alphabetic';
  ctx.fillText('Time series', 135, 66);

  // rigidity range annotation
  ctx.fillStyle = '#fff';
  ctx.fillRect(543.5, 20.5, 153.5, 24);
  ctx.strokeStyle = '#000';
  ctx.lineWidth = 1;
  ctx.strokeRect(543.5, 20.5, 153.5, 24);
  ctx.restore();
  drawRich(ctx, [{ t: 'R', it: true }, { t: ' = 1.4 − 1.82 GV' }], 620.5, 32.5, 15, false);

  // experiment legend
  ctx.save();
  roundRect(ctx, 1037.5, 16.5, 108, 286, 4);
  ctx.fillStyle = 'rgba(255,255,255,0.85)';
  ctx.fill();
  ctx.strokeStyle = '#d0d0d0';
  ctx.lineWidth = 1;
  ctx.stroke();
  ctx.font = `13.4px ${FONT}`;
  ctx.textAlign = 'left';
  ctx.textBaseline = 'middle';
  TOP_LEGEND.forEach(([name, color], i) => {
    const y = 28.3 + i * 21.67;
    ctx.beginPath();
    ctx.arc(1055.7, y, 2.4, 0, Math.PI * 2);
    ctx.strokeStyle = color;
    ctx.lineWidth = 1.4;
    ctx.stroke();
    ctx.fillStyle = TEXT;
    ctx.fillText(name, 1079, y + 1);
  });
  ctx.restore();

  drawRich(ctx, [
    { t: 'dJ', it: true }, { t: 'He', it: true, s: -1 }, { t: '/' }, { t: 'dR', it: true },
    { t: ' [GV' }, { t: '−1', s: 1 }, { t: 'm' }, { t: '−2', s: 1 }, { t: 's' }, { t: '−1', s: 1 },
    { t: 'sr' }, { t: '−1', s: 1 }, { t: ']' },
  ], 35, 161, 15, true);
}

function decorateBottom(chart: any) {
  const ctx: CanvasRenderingContext2D = chart.ctx;
  ctx.save();
  roundRect(ctx, 811.5, 13.5, 331, 47, 4);
  ctx.fillStyle = 'rgba(255,255,255,0.85)';
  ctx.fill();
  ctx.strokeStyle = '#d0d0d0';
  ctx.lineWidth = 1;
  ctx.stroke();
  ctx.beginPath();
  ctx.arc(829.3, 25.3, 2.4, 0, Math.PI * 2);
  ctx.strokeStyle = 'rgba(128,128,128,0.9)';
  ctx.stroke();
  ctx.strokeStyle = '#ee82ee';
  ctx.lineWidth = 1.2;
  ctx.strokeRect(825.5, 44.5, 7.6, 7.6);
  ctx.fillStyle = TEXT;
  ctx.font = `13.4px ${FONT}`;
  ctx.textAlign = 'left';
  ctx.textBaseline = 'middle';
  ctx.fillText('Ghelfi 17 (7 day average using THUL)', 853.3, 26);
  ctx.fillText('Usoskin 17 (monthly average using OULU)', 853.3, 49);

  ctx.font = `18.5px ${FONT}`;
  ctx.textAlign = 'center';
  ctx.textBaseline = 'alphabetic';
  ctx.fillText('time [year]', 592, 358);
  ctx.restore();

  drawRich(ctx, [{ t: 'ϕ', it: true }, { t: 'FF', it: true, s: -1 }, { t: ' from NM [GV]' }], 36, 177, 15, true);
}

const baseOptions = (padding: any, yMin: number, yMax: number) => ({
  animation: false as const,
  responsive: false,
  devicePixelRatio: 1,
  events: [] as any[],
  layout: { padding },
  plugins: { legend: { display: false }, tooltip: { enabled: false } },
  scales: {
    x: { type: 'linear' as const, min: YEAR_MIN, max: YEAR_MAX, display: false },
    y: { type: 'linear' as const, min: yMin, max: yMax, display: false },
  },
});

export default function App() {
  const topRef = useRef<HTMLCanvasElement>(null);
  const botRef = useRef<HTMLCanvasElement>(null);

  useEffect(() => {
    const top = new Chart(topRef.current!, {
      type: 'scatter',
      data: { datasets: topDatasets() },
      options: baseOptions({ left: PAD_LEFT, right: PAD_RIGHT, top: 9, bottom: 8.3 }, FLUX_MIN, FLUX_MAX) as any,
      plugins: [
        errorBarPlugin,
        framePlugin({ id: 'fluxFrame', yTicks: FLUX_TICKS, yFmt: (v) => String(v), xLabels: false, decorate: decorateTop }),
      ],
    } as any);

    const ghelfi = [
      ...GHELFI_PHI.map((y, i) => ({ x: GHELFI_START + i / GHELFI_PER_YEAR, y })),
      ...GHELFI_PHI_MID.map((y, i) => ({ x: GHELFI_START + GHELFI_MID_OFFSET + i / GHELFI_PER_YEAR, y })),
    ];
    const usoskin = USOSKIN_PHI.map((y, i) => ({ x: USOSKIN_START + i / USOSKIN_PER_YEAR, y }));
    const bottom = new Chart(botRef.current!, {
      type: 'scatter',
      data: {
        datasets: [
          {
            label: 'Ghelfi 17 (7 day average using THUL)', data: ghelfi, order: 2,
            pointStyle: 'circle', pointRadius: 2.5, pointBorderWidth: 1.1,
            pointBorderColor: 'rgba(120,120,120,0.85)', pointBackgroundColor: 'rgba(0,0,0,0)',
          },
          {
            label: 'Usoskin 17 (monthly average using OULU)', data: usoskin, order: 1,
            pointStyle: 'rect', pointRadius: 5.4, pointBorderWidth: 1.2,
            pointBorderColor: '#ee82ee', pointBackgroundColor: 'rgba(0,0,0,0)',
          },
        ],
      },
      options: baseOptions({ left: PAD_LEFT, right: PAD_RIGHT, top: 6, bottom: 56 }, PHI_MIN, PHI_MAX) as any,
      plugins: [
        framePlugin({ id: 'phiFrame', yTicks: PHI_TICKS, yFmt: (v) => v.toFixed(1), xLabels: true, decorate: decorateBottom }),
      ],
    } as any);

    return () => {
      top.destroy();
      bottom.destroy();
    };
  }, []);

  return (
    <div style={{ position: 'fixed', left: 0, top: 0, width: 1147, height: 682, overflow: 'hidden', background: '#fff' }}>
      <canvas ref={topRef} width={CANVAS_W} height={TOP_H}
        style={{ position: 'absolute', left: 0, top: 0, width: CANVAS_W, height: TOP_H }} />
      <canvas ref={botRef} width={CANVAS_W} height={BOT_H}
        style={{ position: 'absolute', left: 0, top: BOT_OFFSET, width: CANVAS_W, height: BOT_H }} />
    </div>
  );
}
